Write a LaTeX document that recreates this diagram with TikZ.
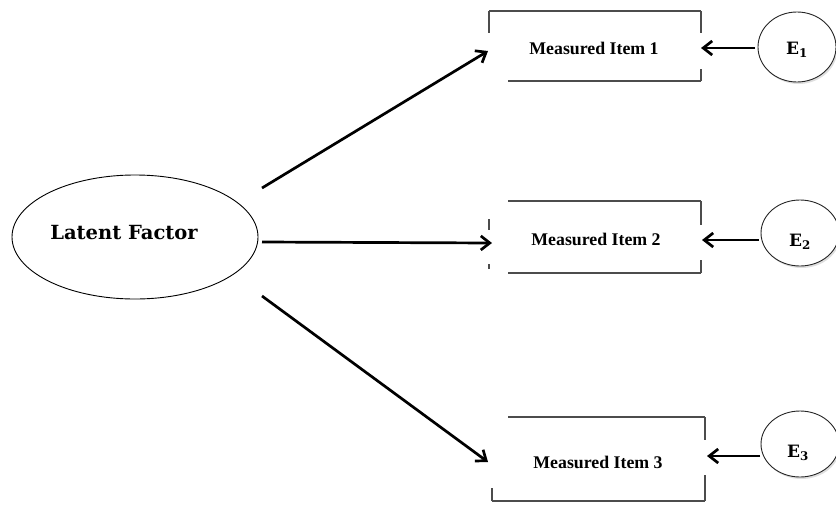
\documentclass[tikz,border=0pt]{standalone}
\usepackage{fontspec}
\setmainfont{Liberation Serif}
\newfontfamily\factorfont{DejaVu Serif}
\usetikzlibrary{arrows.meta,shapes.geometric,shadows}

\begin{document}
\begin{tikzpicture}[x=1pt,y=-1pt,
  loading/.style={line width=2.7pt,
    -{Straight Barb[length=9pt,width=14pt]}},
  boxedge/.style={draw=black!70, line width=1.2pt},
  anchorbox/.style={inner sep=0pt, outer sep=0pt},
  itemtext/.style={font=\fontsize{17.8}{18}\selectfont\bfseries},
  factortext/.style={font=\factorfont\fontsize{19.5}{20}\selectfont\bfseries},
  errorshape/.style={ellipse, draw=black!85, line width=0.9pt, fill=white,
    inner sep=0pt, minimum width=78pt, minimum height=70pt,
    drop shadow={shadow xshift=1.5pt, shadow yshift=-2pt, opacity=0.25}},
  errortext/.style={font=\factorfont\fontsize{17}{17}\selectfont\bfseries}
]
\useasboundingbox (0,0) rectangle (836,504);

% latent factor
\node[ellipse, draw, line width=0.9pt, inner sep=0pt,
      minimum width=246pt, minimum height=124pt] (lf) at (135,237) {};
\node[factortext] (lftext) at (124,233) {Latent Factor};

% measured items (placeholders carrying the text)
\node[anchorbox, minimum width=212pt, minimum height=70pt] (m1) at (595,46) {};
\node[anchorbox, minimum width=212pt, minimum height=72pt] (m2) at (595,237) {};
\node[anchorbox, minimum width=213pt, minimum height=84pt] (m3) at (598.5,459) {};
\node[itemtext] (m1text) at (594,48) {Measured Item 1};
\node[itemtext] (m2text) at (596,239) {Measured Item 2};
\node[itemtext] (m3text) at (598,462) {Measured Item 3};

% broken outlines of the item boxes
\draw[boxedge] (m1.north west) -- (m1.north east);
\draw[boxedge] (m1.north west) -- ++(0,22);
\draw[boxedge] (m1.north east) -- ++(0,22);
\draw[boxedge] (m1.south east) -- ++(0,-12);
\draw[boxedge] (m1.south east) -- ++(-193,0);

\draw[boxedge] (m2.north east) -- ++(-193,0);
\draw[boxedge] (m2.south east) -- ++(-193,0);
\draw[boxedge] (m2.north east) -- ++(0,24);
\draw[boxedge] (m2.south east) -- ++(0,-13);
\draw[boxedge] ([yshift=-18pt]m2.north west) -- ++(0,11);
\draw[boxedge] ([yshift=4pt]m2.south west) -- ++(0,-5);

\draw[boxedge] (m3.north east) -- ++(-197,0);
\draw[boxedge] (m3.south west) -- (m3.south east);
\draw[boxedge] (m3.south west) -- ++(0,-13);
\draw[boxedge] (m3.north east) -- ++(0,23);
\draw[boxedge] (m3.south east) -- ++(0,-26);

% error terms
\node[errorshape] (e1) at (797,47) {};
\node[errorshape, minimum height=66pt] (e2) at (800,233) {};
\node[errorshape, minimum height=66pt] (e3) at (800,444) {};
\node[errortext] (e1text) at (797,50) {E\textsubscript{1}};
\node[errortext] (e2text) at (800,242) {E\textsubscript{2}};
\node[errortext] (e3text) at (798,453) {E\textsubscript{3}};

% connector ends
\coordinate (lfa) at (262,188);
\coordinate (lfb) at (262,242);
\coordinate (lfc) at (262,296);
\coordinate (m1in) at (488,51);
\coordinate (m2in) at (492,243);
\coordinate (m3in) at (488,462);
\coordinate (e1out) at (755,48);
\coordinate (e2out) at (759,240);
\coordinate (e3out) at (760,456);
\coordinate (m1err) at (701,48);
\coordinate (m2err) at (702,240);
\coordinate (m3err) at (707,456);

% loadings
\draw[loading] (lfa) -- (m1in);
\draw[loading] (lfb) -- (m2in);
\draw[loading] (lfc) -- (m3in);

% error paths
\draw[loading] (e1out) -- (m1err);
\draw[loading] (e2out) -- (m2err);
\draw[loading] (e3out) -- (m3err);
\end{tikzpicture}
\end{document}
